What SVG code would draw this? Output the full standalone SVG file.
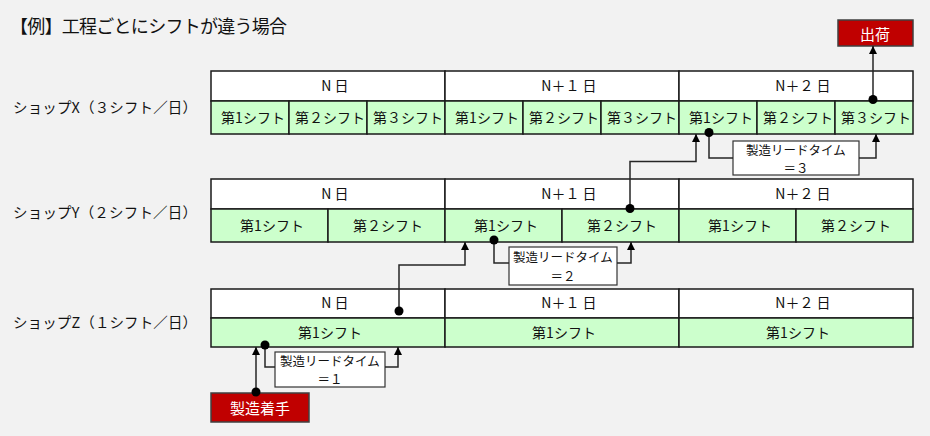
<svg xmlns="http://www.w3.org/2000/svg" width="930" height="436" viewBox="0 0 930 436">
<style>
text{font-family:"Noto Sans CJK JP","Noto Sans",sans-serif;fill:#111;dominant-baseline:central;text-anchor:middle}
.day{fill:#ffffff;stroke:#1a1a1a;stroke-width:1.5}
.sh{fill:#ccffcc;stroke:#1a1a1a;stroke-width:1.5}
.t{font-size:14px}
.lbl{font-size:14.5px;text-anchor:start}
.lt{fill:#ffffff;stroke:#333;stroke-width:1.2}
.ltt{font-size:12.5px}
.red{fill:#c00000;stroke:#404040;stroke-width:1.5}
.rt{fill:#ffffff;font-size:15px}
.conn{fill:none;stroke:#262626;stroke-width:1.5;marker-end:url(#arr)}
.dot{fill:#000}
</style>
<defs>
<marker id="arr" markerUnits="userSpaceOnUse" markerWidth="10" markerHeight="10" refX="8" refY="4" orient="auto">
<path d="M0,0 L8,4 L0,8 z" fill="#000"/>
</marker>
</defs>
<rect x="0" y="0" width="930" height="436" fill="#f2f2f2"/>
<text x="10" y="25" style="font-size:18px;text-anchor:start" textLength="277" lengthAdjust="spacing">【例】工程ごとにシフトが違う場合</text>

<g id="labels">
<text class="lbl" x="13" y="106" textLength="184" lengthAdjust="spacing">ショップX（３シフト／日）</text>
<text class="lbl" x="13" y="211" textLength="184" lengthAdjust="spacing">ショップY（２シフト／日）</text>
<text class="lbl" x="13" y="321" textLength="184" lengthAdjust="spacing">ショップZ（１シフト／日）</text>
</g>

<g id="shopX">
<rect class="day" x="211" y="71" width="234" height="30"/>
<rect class="day" x="445" y="71" width="234" height="30"/>
<rect class="day" x="679" y="71" width="234" height="30"/>
<text class="t" x="335" y="85">N 日</text>
<text class="t" x="569" y="85">N＋１ 日</text>
<text class="t" x="803" y="85">N＋２ 日</text>
<rect class="sh" x="211" y="101" width="78" height="33"/>
<rect class="sh" x="289" y="101" width="78" height="33"/>
<rect class="sh" x="367" y="101" width="78" height="33"/>
<rect class="sh" x="445" y="101" width="78" height="33"/>
<rect class="sh" x="523" y="101" width="78" height="33"/>
<rect class="sh" x="601" y="101" width="78" height="33"/>
<rect class="sh" x="679" y="101" width="78" height="33"/>
<rect class="sh" x="757" y="101" width="78" height="33"/>
<rect class="sh" x="835" y="101" width="78" height="33"/>
<text class="t" x="253" y="117">第1シフト</text>
<text class="t" x="330" y="117">第２シフト</text>
<text class="t" x="408" y="117">第３シフト</text>
<text class="t" x="487" y="117">第1シフト</text>
<text class="t" x="564" y="117">第２シフト</text>
<text class="t" x="642" y="117">第３シフト</text>
<text class="t" x="721" y="117">第1シフト</text>
<text class="t" x="798" y="117">第２シフト</text>
<text class="t" x="876" y="117">第３シフト</text>
</g>

<g id="shopY">
<rect class="day" x="211" y="179" width="234" height="30"/>
<rect class="day" x="445" y="179" width="234" height="30"/>
<rect class="day" x="679" y="179" width="234" height="30"/>
<text class="t" x="335" y="193">N 日</text>
<text class="t" x="569" y="193">N＋１ 日</text>
<text class="t" x="803" y="193">N＋２ 日</text>
<rect class="sh" x="211" y="209" width="117" height="33"/>
<rect class="sh" x="328" y="209" width="117" height="33"/>
<rect class="sh" x="445" y="209" width="117" height="33"/>
<rect class="sh" x="562" y="209" width="117" height="33"/>
<rect class="sh" x="679" y="209" width="117" height="33"/>
<rect class="sh" x="796" y="209" width="117" height="33"/>
<text class="t" x="272" y="225">第1シフト</text>
<text class="t" x="388" y="225">第２シフト</text>
<text class="t" x="506" y="225">第1シフト</text>
<text class="t" x="622" y="225">第２シフト</text>
<text class="t" x="740" y="225">第1シフト</text>
<text class="t" x="856" y="225">第２シフト</text>
</g>

<g id="shopZ">
<rect class="day" x="211" y="289" width="234" height="29"/>
<rect class="day" x="445" y="289" width="234" height="29"/>
<rect class="day" x="679" y="289" width="234" height="29"/>
<text class="t" x="335" y="302">N 日</text>
<text class="t" x="569" y="302">N＋１ 日</text>
<text class="t" x="803" y="302">N＋２ 日</text>
<rect class="sh" x="211" y="318" width="234" height="29"/>
<rect class="sh" x="445" y="318" width="234" height="29"/>
<rect class="sh" x="679" y="318" width="234" height="29"/>
<text class="t" x="330" y="332">第1シフト</text>
<text class="t" x="564" y="332">第1シフト</text>
<text class="t" x="798" y="332">第1シフト</text>
</g>

<g id="lt1">
<rect class="lt" x="275" y="352" width="110" height="35"/>
<text class="ltt" x="330" y="360">製造リードタイム</text>
<text class="ltt" x="330" y="378.5">＝１</text>
</g>
<g id="lt2">
<rect class="lt" x="509" y="247" width="108" height="38"/>
<text class="ltt" x="563" y="256.5">製造リードタイム</text>
<text class="ltt" x="563" y="275">＝２</text>
</g>
<g id="lt3">
<rect class="lt" x="733" y="141" width="126" height="34"/>
<text class="ltt" x="796" y="149">製造リードタイム</text>
<text class="ltt" x="796" y="167.5">＝３</text>
</g>

<g id="start">
<rect class="red" x="211" y="393" width="98" height="29"/>
<text class="rt" x="260" y="407">製造着手</text>
</g>
<g id="ship">
<rect class="red" x="838" y="20" width="75" height="26"/>
<text class="rt" x="875" y="33">出荷</text>
</g>

<g id="connectors">
<path class="conn" d="M256,393 V347"/>
<path class="conn" d="M265,346 V367 H275 M385,367 H398 V347"/>
<path class="conn" d="M399,311 V265 H465 V242"/>
<path class="conn" d="M494,240 V263 H509 M617,263 H631 V242"/>
<path class="conn" d="M630,209 V161.5 H696 V134"/>
<path class="conn" d="M709,133 V158 H733 M859,158 H876 V134"/>
<path class="conn" d="M873,100 V46"/>
<circle class="dot" cx="256" cy="392" r="4.5"/>
<circle class="dot" cx="265" cy="345" r="4.5"/>
<circle class="dot" cx="399" cy="311" r="4.5"/>
<circle class="dot" cx="494" cy="240" r="4.5"/>
<circle class="dot" cx="630" cy="208.5" r="4.5"/>
<circle class="dot" cx="709" cy="132.5" r="4.5"/>
<circle class="dot" cx="873" cy="99.5" r="4.5"/>
</g>
</svg>
